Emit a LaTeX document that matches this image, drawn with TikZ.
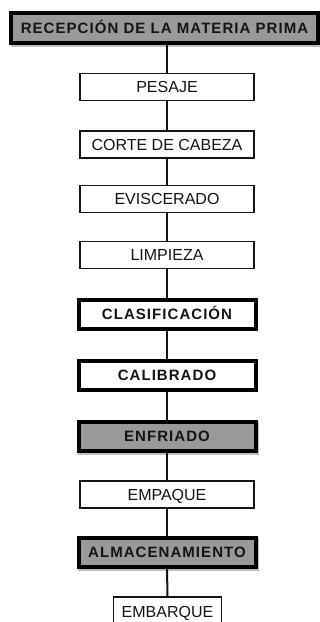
\documentclass[tikz,border=0pt]{standalone}
\usepackage{fontspec}
\setmainfont{Liberation Sans}
\newfontfamily\boldlab[LetterSpace=7]{Liberation Sans}
\usetikzlibrary{shadows}
\definecolor{boxgray}{RGB}{153,153,153}
\definecolor{shadegray}{RGB}{190,190,190}
\definecolor{inkblack}{RGB}{20,20,20}
\tikzset{
  plainbox/.style={draw=inkblack, line width=1.3pt, fill=white, minimum width=174pt,
    minimum height=27pt, inner sep=0pt, font=\fontsize{16}{19}\selectfont,
    text height=11.5pt, text depth=0pt, text=inkblack},
  thickbox/.style={draw=black, line width=4pt, fill=white, minimum width=177pt,
    minimum height=29pt, inner sep=0pt, font=\boldlab\bfseries\fontsize{15}{18}\selectfont,
    text height=10.7pt, text depth=0pt, text=inkblack},
  graybox/.style={thickbox, fill=boxgray,
    general shadow={shadow xshift=1.5pt, shadow yshift=-2pt, fill=shadegray, draw=shadegray, line width=4pt}},
  conn/.style={draw=inkblack, line width=2pt}
}
\begin{document}
\begin{tikzpicture}[x=1pt,y=-1pt]
\useasboundingbox (0,0) rectangle (320,622);
\clip (0,0) rectangle (320,622);
\node[graybox, minimum width=307pt, minimum height=30pt] (rec) at (164.5,28) {RECEPCIÓN DE LA MATERIA PRIMA};
\node[plainbox] (pes) at (167,87) {PESAJE};
\node[plainbox] (cor) at (167,144.5) {CORTE DE CABEZA};
\node[plainbox] (evi) at (167,199) {EVISCERADO};
\node[plainbox] (lim) at (167,255) {LIMPIEZA};
\node[thickbox] (cla) at (167,314) {CLASIFICACIÓN};
\node[thickbox] (cal) at (167,375) {CALIBRADO};
\node[graybox] (enf) at (167,436) {ENFRIADO};
\node[plainbox] (emp) at (167,494.5) {EMPAQUE};
\node[graybox] (alm) at (167,552.5) {ALMACENAMIENTO};
\node[plainbox, minimum width=108pt, minimum height=30pt] (emb) at (167.5,612) {EMBARQUE};
\draw[conn] (rec.south -| pes.north) -- (pes.north);
\draw[conn] (pes) -- (cor);
\draw[conn] (cor) -- (evi);
\draw[conn] (evi) -- (lim);
\draw[conn] (lim) -- (cla);
\draw[conn] (cla) -- (cal);
\draw[conn] (cal) -- (enf);
\draw[conn] (enf) -- (emp);
\draw[conn] (emp) -- (alm);
\draw[conn] (alm) -- (emb);
\end{tikzpicture}
\end{document}
